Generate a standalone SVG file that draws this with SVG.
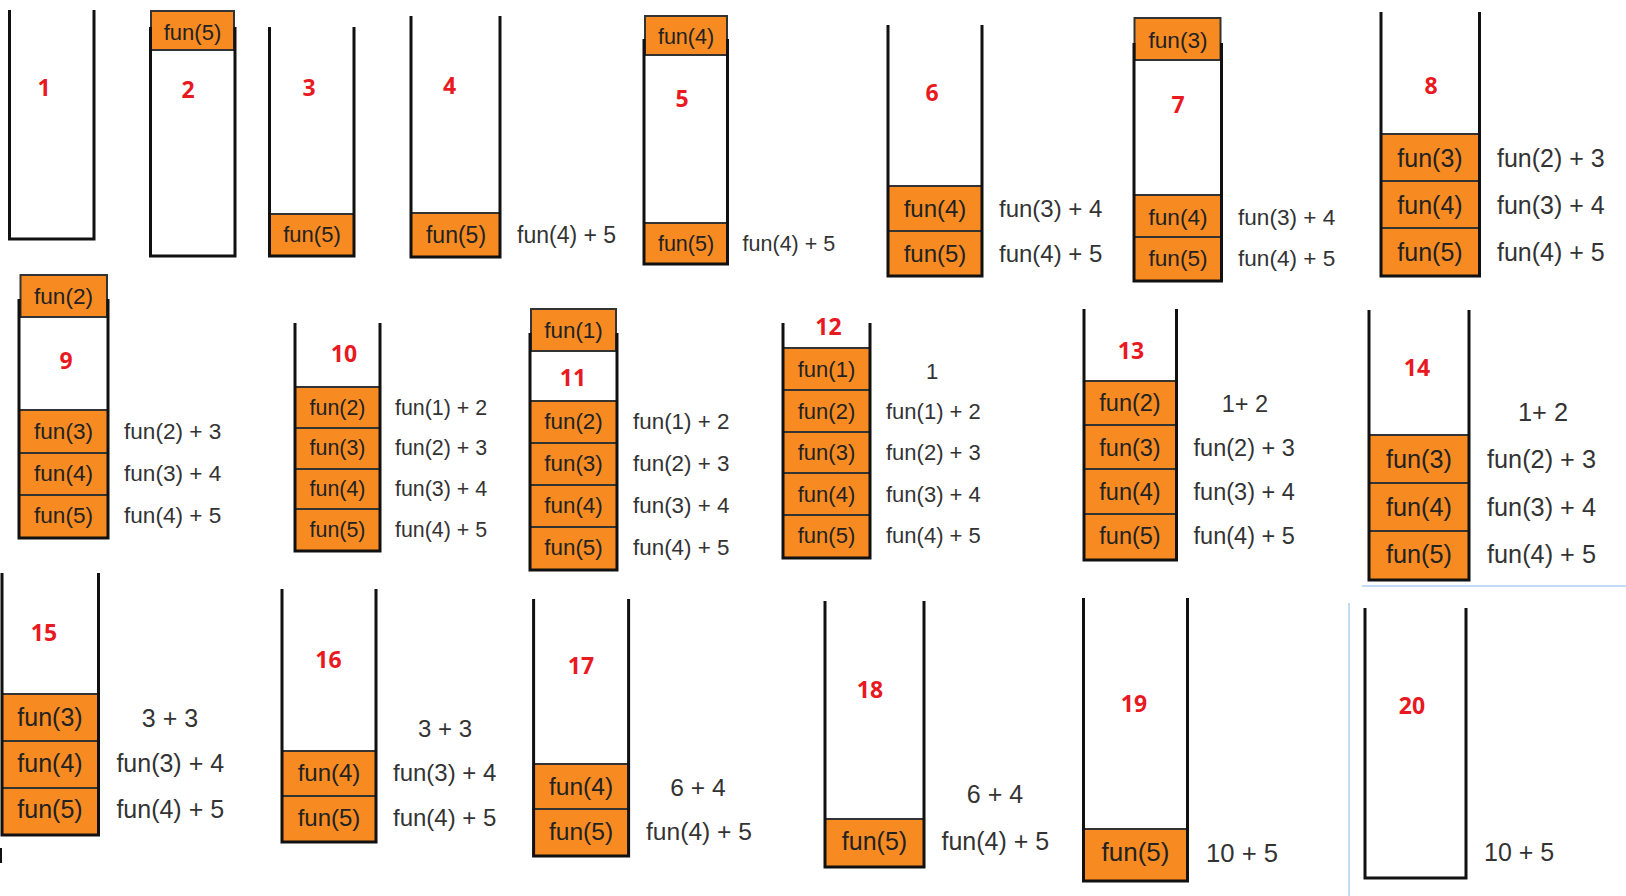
<svg xmlns="http://www.w3.org/2000/svg" width="1626" height="896" viewBox="0 0 1626 896">
<style>
.w{fill:none;stroke:#111;stroke-width:3}
.b{fill:#f78b22;stroke:#333;stroke-width:2}
.t{font-family:"Liberation Sans",Arial,sans-serif;fill:#222;text-anchor:middle}
.s{font-family:"Liberation Sans",Arial,sans-serif;fill:#333}
.m{text-anchor:middle}
.n{font-family:"Open Sans","Liberation Sans",sans-serif;font-weight:700;fill:#e8191f;text-anchor:middle;font-size:23px}
.bl{stroke:#c4dbf5;stroke-width:2;fill:none}
</style>
<rect width="1626" height="896" fill="#fff"/>
<g id="decor">
<line class="bl" x1="1362" y1="586" x2="1626" y2="586"/>
<line class="bl" x1="1349" y1="603" x2="1349" y2="896"/>
<line x1="1" y1="848" x2="1" y2="863" stroke="#111" stroke-width="2"/>
</g>
<g id="p1">
<path class="w" d="M9.5,10V239H94V10"/>
<text class="n" x="44" y="95.5">1</text>
</g>
<g id="p2" font-size="22">
<rect class="b" x="151" y="11" width="83" height="39"/>
<text class="t" x="192.5" y="39.5">fun(5)</text>
<path class="w" d="M150.5,27V256H235V27"/>
<text class="n" x="188" y="97.5">2</text>
</g>
<g id="p3" font-size="22">
<rect class="b" x="269.5" y="214" width="84.5" height="42"/>
<text class="t" x="312" y="242">fun(5)</text>
<path class="w" d="M269.5,27V256H354V27"/>
<text class="n" x="309" y="95.5">3</text>
</g>
<g id="p4" font-size="23">
<rect class="b" x="411" y="213" width="89" height="44"/>
<text class="t" x="456" y="243.4">fun(5)</text>
<path class="w" d="M411,16V257H500V16"/>
<text class="n" x="449.5" y="93.5">4</text>
<text class="s" x="517" y="243.4">fun(4) + 5</text>
</g>
<g id="p5" font-size="21.5">
<rect class="b" x="645" y="16" width="82" height="39"/>
<text class="t" x="686" y="43.5">fun(4)</text>
<rect class="b" x="644" y="223" width="83.5" height="41"/>
<text class="t" x="686" y="251">fun(5)</text>
<path class="w" d="M644,39V264H727.5V39"/>
<text class="n" x="682" y="106.5">5</text>
<text class="s" x="742.6" y="251">fun(4) + 5</text>
</g>
<g id="p6" font-size="24">
<rect class="b" x="888" y="186" width="94" height="45"/>
<rect class="b" x="888" y="231" width="94" height="45"/>
<text class="t" x="935" y="216.5">fun(4)</text>
<text class="t" x="935" y="261.5">fun(5)</text>
<path class="w" d="M888,25V276H982V25"/>
<text class="n" x="932" y="100.5">6</text>
<text class="s" x="999" y="216.5">fun(3) + 4</text>
<text class="s" x="999" y="261.5">fun(4) + 5</text>
</g>
<g id="p7" font-size="22.6">
<rect class="b" x="1134.5" y="18" width="86" height="42"/>
<text class="t" x="1178" y="47.8">fun(3)</text>
<rect class="b" x="1134" y="195" width="87.5" height="42"/>
<rect class="b" x="1134" y="237" width="87.5" height="44"/>
<text class="t" x="1178" y="225">fun(4)</text>
<text class="t" x="1178" y="266">fun(5)</text>
<path class="w" d="M1134,43V281H1221.5V43"/>
<text class="n" x="1178" y="112.5">7</text>
<text class="s" x="1238" y="225">fun(3) + 4</text>
<text class="s" x="1238" y="266">fun(4) + 5</text>
</g>
<g id="p8" font-size="25">
<rect class="b" x="1381" y="134" width="98.5" height="47"/>
<rect class="b" x="1381" y="181" width="98.5" height="47"/>
<rect class="b" x="1381" y="228" width="98.5" height="48"/>
<text class="t" x="1430" y="166.5">fun(3)</text>
<text class="t" x="1430" y="213.5">fun(4)</text>
<text class="t" x="1430" y="260.5">fun(5)</text>
<path class="w" d="M1381,12V276H1479.5V12"/>
<text class="n" x="1431" y="93.5">8</text>
<text class="s" x="1497" y="166.5">fun(2) + 3</text>
<text class="s" x="1497" y="213.5">fun(3) + 4</text>
<text class="s" x="1497" y="260.5">fun(4) + 5</text>
</g>
<g id="p9" font-size="22.6">
<rect class="b" x="20.5" y="275" width="86.5" height="42"/>
<text class="t" x="63.5" y="304">fun(2)</text>
<rect class="b" x="19" y="410" width="89" height="43"/>
<rect class="b" x="19" y="453" width="89" height="42"/>
<rect class="b" x="19" y="495" width="89" height="43"/>
<text class="t" x="63.5" y="439">fun(3)</text>
<text class="t" x="63.5" y="481">fun(4)</text>
<text class="t" x="63.5" y="523">fun(5)</text>
<path class="w" d="M19,299V538H108V299"/>
<text class="n" x="66" y="368.8">9</text>
<text class="s" x="124" y="439">fun(2) + 3</text>
<text class="s" x="124" y="481">fun(3) + 4</text>
<text class="s" x="124" y="523">fun(4) + 5</text>
</g>
<g id="p10" font-size="21.4">
<rect class="b" x="295" y="387" width="85" height="41"/>
<rect class="b" x="295" y="428" width="85" height="41"/>
<rect class="b" x="295" y="469" width="85" height="40"/>
<rect class="b" x="295" y="509" width="85" height="42"/>
<text class="t" x="337.5" y="415">fun(2)</text>
<text class="t" x="337.5" y="455">fun(3)</text>
<text class="t" x="337.5" y="496">fun(4)</text>
<text class="t" x="337.5" y="537">fun(5)</text>
<path class="w" d="M295,323V551H380V323"/>
<text class="n" x="344" y="362">10</text>
<text class="s" x="395" y="415">fun(1) + 2</text>
<text class="s" x="395" y="455">fun(2) + 3</text>
<text class="s" x="395" y="496">fun(3) + 4</text>
<text class="s" x="395" y="537">fun(4) + 5</text>
</g>
<g id="p11" font-size="22.4">
<rect class="b" x="531" y="309" width="85" height="42"/>
<text class="t" x="573.5" y="338">fun(1)</text>
<rect class="b" x="530" y="401" width="87" height="42"/>
<rect class="b" x="530" y="443" width="87" height="42"/>
<rect class="b" x="530" y="485" width="87" height="42"/>
<rect class="b" x="530" y="527" width="87" height="43"/>
<text class="t" x="573.5" y="429">fun(2)</text>
<text class="t" x="573.5" y="471">fun(3)</text>
<text class="t" x="573.5" y="513">fun(4)</text>
<text class="t" x="573.5" y="554.5">fun(5)</text>
<path class="w" d="M530,333V570H617V333"/>
<text class="n" x="573" y="386">11</text>
<text class="s" x="633" y="429">fun(1) + 2</text>
<text class="s" x="633" y="471">fun(2) + 3</text>
<text class="s" x="633" y="513">fun(3) + 4</text>
<text class="s" x="633" y="554.5">fun(4) + 5</text>
</g>
<g id="p12" font-size="22">
<rect class="b" x="783" y="348" width="87" height="42"/>
<rect class="b" x="783" y="390" width="87" height="42"/>
<rect class="b" x="783" y="432" width="87" height="41"/>
<rect class="b" x="783" y="473" width="87" height="42"/>
<rect class="b" x="783" y="515" width="87" height="43"/>
<text class="t" x="826.5" y="377">fun(1)</text>
<text class="t" x="826.5" y="419">fun(2)</text>
<text class="t" x="826.5" y="460">fun(3)</text>
<text class="t" x="826.5" y="502">fun(4)</text>
<text class="t" x="826.5" y="543">fun(5)</text>
<path class="w" d="M783,323V558H870V323"/>
<text class="n" x="828.5" y="334.5">12</text>
<text class="s m" x="932" y="378.5">1</text>
<text class="s" x="886" y="419">fun(1) + 2</text>
<text class="s" x="886" y="460">fun(2) + 3</text>
<text class="s" x="886" y="502">fun(3) + 4</text>
<text class="s" x="886" y="543">fun(4) + 5</text>
</g>
<g id="p13" font-size="23.5">
<rect class="b" x="1084" y="381" width="92.5" height="44"/>
<rect class="b" x="1084" y="425" width="92.5" height="44"/>
<rect class="b" x="1084" y="469" width="92.5" height="45"/>
<rect class="b" x="1084" y="514" width="92.5" height="46"/>
<text class="t" x="1130" y="410.5">fun(2)</text>
<text class="t" x="1130" y="455.5">fun(3)</text>
<text class="t" x="1130" y="499.5">fun(4)</text>
<text class="t" x="1130" y="543.5">fun(5)</text>
<path class="w" d="M1084,309V560H1176.5V309"/>
<text class="n" x="1131" y="358.8">13</text>
<text class="s m" x="1245" y="412">1+ 2</text>
<text class="s" x="1193.6" y="455.5">fun(2) + 3</text>
<text class="s" x="1193.6" y="499.5">fun(3) + 4</text>
<text class="s" x="1193.6" y="543.5">fun(4) + 5</text>
</g>
<g id="p14" font-size="25.3">
<rect class="b" x="1369" y="435" width="100" height="48"/>
<rect class="b" x="1369" y="483" width="100" height="48"/>
<rect class="b" x="1369" y="531" width="100" height="49"/>
<text class="t" x="1419" y="467.5">fun(3)</text>
<text class="t" x="1419" y="515.5">fun(4)</text>
<text class="t" x="1419" y="563">fun(5)</text>
<path class="w" d="M1369,310V580H1469V310"/>
<text class="n" x="1417" y="376">14</text>
<text class="s m" x="1543" y="421">1+ 2</text>
<text class="s" x="1487" y="467.5">fun(2) + 3</text>
<text class="s" x="1487" y="515.5">fun(3) + 4</text>
<text class="s" x="1487" y="563">fun(4) + 5</text>
</g>
<g id="p15" font-size="25">
<rect class="b" x="2" y="694" width="96.5" height="47"/>
<rect class="b" x="2" y="741" width="96.5" height="47"/>
<rect class="b" x="2" y="788" width="96.5" height="47"/>
<text class="t" x="50" y="725.5">fun(3)</text>
<text class="t" x="50" y="771.5">fun(4)</text>
<text class="t" x="50" y="818">fun(5)</text>
<path class="w" d="M2,573V835H98.5V573"/>
<text class="n" x="44" y="641.3">15</text>
<text class="s m" x="170" y="727">3 + 3</text>
<text class="s" x="116.4" y="771.5">fun(3) + 4</text>
<text class="s" x="116.4" y="818">fun(4) + 5</text>
</g>
<g id="p16" font-size="24">
<rect class="b" x="282" y="751" width="94" height="45"/>
<rect class="b" x="282" y="796" width="94" height="46"/>
<text class="t" x="329" y="780.5">fun(4)</text>
<text class="t" x="329" y="825.5">fun(5)</text>
<path class="w" d="M282,589V842H376V589"/>
<text class="n" x="328.5" y="668.3">16</text>
<text class="s m" x="445" y="736.6">3 + 3</text>
<text class="s" x="393" y="780.5">fun(3) + 4</text>
<text class="s" x="393" y="825.5">fun(4) + 5</text>
</g>
<g id="p17" font-size="24.6">
<rect class="b" x="533.6" y="764" width="95" height="45"/>
<rect class="b" x="533.6" y="809" width="95" height="47"/>
<text class="t" x="581" y="794.5">fun(4)</text>
<text class="t" x="581" y="839.5">fun(5)</text>
<path class="w" d="M533.6,599V856H628.6V599"/>
<text class="n" x="581" y="674.3">17</text>
<text class="s m" x="698" y="795.8">6 + 4</text>
<text class="s" x="646" y="839.5">fun(4) + 5</text>
</g>
<g id="p18" font-size="25">
<rect class="b" x="825" y="819" width="99" height="48"/>
<text class="t" x="874.5" y="850">fun(5)</text>
<path class="w" d="M825,601V867H924V601"/>
<text class="n" x="870" y="698.3">18</text>
<text class="s m" x="995" y="803">6 + 4</text>
<text class="s" x="941.5" y="850">fun(4) + 5</text>
</g>
<g id="p19" font-size="26">
<rect class="b" x="1083.5" y="829" width="104" height="52"/>
<text class="t" x="1135.5" y="861">fun(5)</text>
<path class="w" d="M1083.5,598V881H1187.5V598"/>
<text class="n" x="1134" y="712.3">19</text>
<text class="s" x="1206" y="862.3" font-size="25.7">10 + 5</text>
</g>
<g id="p20" font-size="25">
<path class="w" d="M1365,608V878H1466V608"/>
<text class="n" x="1412" y="714.3">20</text>
<text class="s" x="1484" y="861">10 + 5</text>
</g>
</svg>
